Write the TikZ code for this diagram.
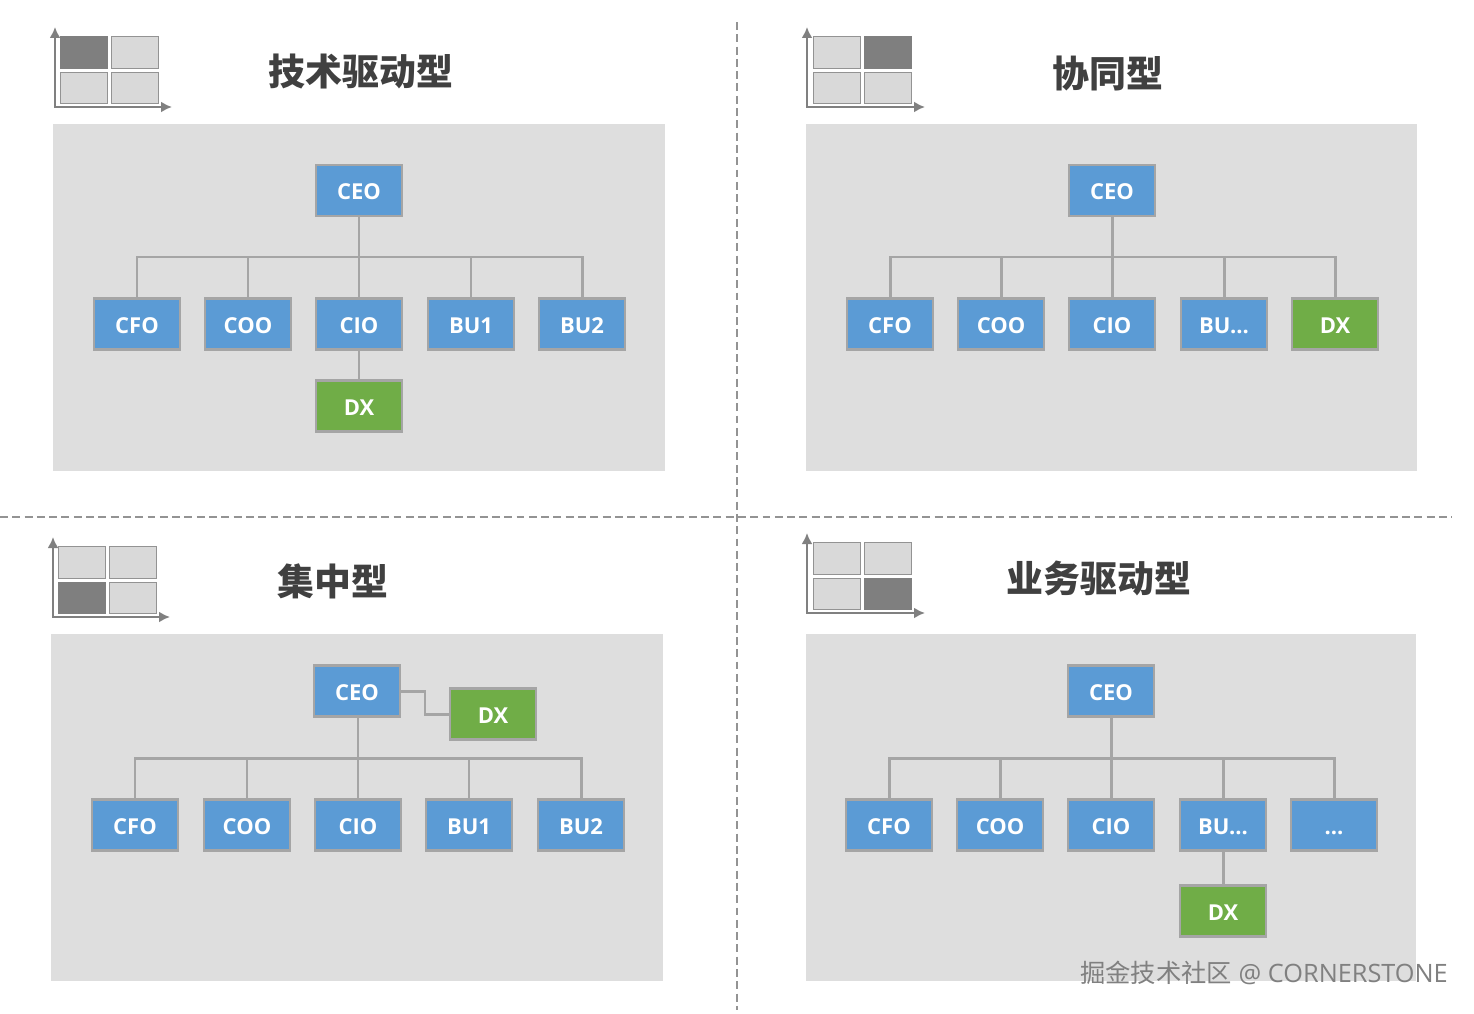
\documentclass[tikz,border=0pt]{standalone}
\usepackage{fontspec}
\setmainfont{Open Sans}
\newfontfamily\cjk{Noto Sans CJK SC}
\usepackage{xcolor}
\usetikzlibrary{arrows.meta}
\definecolor{panelgray}{HTML}{DEDEDE}
\definecolor{linegray}{HTML}{A5A5A5}
\definecolor{boxblue}{HTML}{5B9BD5}
\definecolor{boxgreen}{HTML}{70AD47}
\definecolor{celllight}{HTML}{D9D9D9}
\definecolor{celldark}{HTML}{7F7F7F}
\definecolor{titlegray}{HTML}{404040}
\tikzset{
    rolebox/.style={draw=linegray,line width=1.2pt,fill=boxblue,text=white,font=\bfseries\fontsize{12.5}{14}\selectfont,minimum width=1.72cm,minimum height=1.02cm,text height=10.5pt,text depth=0pt,inner sep=0pt},
    dxbox/.style={rolebox,fill=boxgreen},
    link/.style={draw=linegray,line width=1.7pt},
    panel/.style={fill=panelgray,draw=none},
    sep/.style={draw=gray!85,line width=0.8pt,dash pattern=on 4.5pt off 2.5pt},
    cell/.style={draw=gray!85,line width=0.5pt,fill=celllight},
    darkcell/.style={draw=celldark,line width=0.5pt,fill=celldark},
    axes/.style={draw=gray,line width=1.6pt,{Latex[length=2.2mm,width=2.2mm]}-{Latex[length=2.2mm,width=2.2mm]}},
    heading/.style={text=titlegray,font=\cjk\bfseries\fontsize{21}{24}\selectfont,inner sep=0pt}
}
\begin{document}
\begin{tikzpicture}[x=0.02cm,y=-0.02cm]
        \useasboundingbox (0,0) rectangle (1474,1014);
        \fill[white] (0,0) rectangle (1474,1014);
        % separators
        \draw[sep] (737,22) -- (737,1010);
        \draw[sep] (0,517) -- (1452,517);
        % panels
        \draw[panel] (53,124) rectangle (665,471);
        \draw[panel] (806,124) rectangle (1417,471);
        \draw[panel] (51,634) rectangle (663,981);
        \draw[panel] (806,634) rectangle (1416,981);
        % top left
        \draw[axes] (55,27) -- (55,107) -- (172,107);
        \draw[darkcell] (60,36) rectangle (107,68);
        \draw[cell] (111,36) rectangle (158,68);
        \draw[cell] (60,72) rectangle (107,103);
        \draw[cell] (111,72) rectangle (158,103);
        \node[heading] (title1) at (361,71) {技术驱动型};
        \node[rolebox] (ceo1) at (359,190.5) {CEO};
        \node[rolebox] (cfo1) at (137,324) {CFO};
        \node[rolebox] (coo1) at (248,324) {COO};
        \node[rolebox] (cio1) at (359,324) {CIO};
        \node[rolebox] (bu1) at (471,324) {BU1};
        \node[rolebox] (bv1) at (582,324) {BU2};
        \node[dxbox] (dx1) at (359,406) {DX};
        \coordinate (bus1) at (359,257);
        \draw[link] (ceo1) -- (cio1);
        \draw[link] (cio1) -- (dx1);
        \draw[link] (bus1) -| (cfo1.north);
        \draw[link] (bus1) -| (coo1.north);
        \draw[link] (bus1) -| (bu1.north);
        \draw[link] (bus1) -| (bv1.north);
        % top right
        \draw[axes] (807,27) -- (807,107) -- (925,107);
        \draw[cell] (813,36) rectangle (860,68);
        \draw[darkcell] (864,36) rectangle (911,68);
        \draw[cell] (813,72) rectangle (860,103);
        \draw[cell] (864,72) rectangle (911,103);
        \node[heading] (title2) at (1108,73) {协同型};
        \node[rolebox] (ceo2) at (1112,190.5) {CEO};
        \node[rolebox] (cfo2) at (890,324) {CFO};
        \node[rolebox] (coo2) at (1001,324) {COO};
        \node[rolebox] (cio2) at (1112,324) {CIO};
        \node[rolebox] (bu2) at (1224,324) {BU...};
        \node[dxbox] (dx2) at (1335,324) {DX};
        \coordinate (bus2) at (1112,257);
        \draw[link] (ceo2) -- (cio2);
        \draw[link] (bus2) -| (cfo2.north);
        \draw[link] (bus2) -| (coo2.north);
        \draw[link] (bus2) -| (bu2.north);
        \draw[link] (bus2) -| (dx2.north);
        % bottom left
        \draw[axes] (53,537) -- (53,617) -- (170,617);
        \draw[cell] (58,546) rectangle (105,578);
        \draw[cell] (109,546) rectangle (156,578);
        \draw[darkcell] (58,582) rectangle (105,613);
        \draw[cell] (109,582) rectangle (156,613);
        \node[heading] (title3) at (333,581) {集中型};
        \node[rolebox] (ceo3) at (357,691) {CEO};
        \node[rolebox] (cfo3) at (135,825) {CFO};
        \node[rolebox] (coo3) at (247,825) {COO};
        \node[rolebox] (cio3) at (358,825) {CIO};
        \node[rolebox] (bu3) at (469,825) {BU1};
        \node[rolebox] (bv3) at (581,825) {BU2};
        \node[dxbox] (dx3) at (493,714) {DX};
        \coordinate (bus3) at (358,758);
        \draw[link] (ceo3.south -| cio3) -- (cio3);
        \draw[link] (ceo3.east) -| (425,714) -- (dx3.west);
        \draw[link] (bus3) -| (cfo3.north);
        \draw[link] (bus3) -| (coo3.north);
        \draw[link] (bus3) -| (bu3.north);
        \draw[link] (bus3) -| (bv3.north);
        % bottom right
        \draw[axes] (807,533) -- (807,613) -- (925,613);
        \draw[cell] (813,542) rectangle (860,574);
        \draw[cell] (864,542) rectangle (911,574);
        \draw[cell] (813,578) rectangle (860,609);
        \draw[darkcell] (864,578) rectangle (911,609);
        \node[heading] (title4) at (1099,578) {业务驱动型};
        \node[rolebox] (ceo4) at (1111,691) {CEO};
        \node[rolebox] (cfo4) at (889,825) {CFO};
        \node[rolebox] (coo4) at (1000,825) {COO};
        \node[rolebox] (cio4) at (1111,825) {CIO};
        \node[rolebox] (bu4) at (1223,825) {BU...};
        \node[rolebox] (etc4) at (1334,825) {...};
        \node[dxbox] (dx4) at (1223,911) {DX};
        \coordinate (bus4) at (1111,758);
        \draw[link] (ceo4) -- (cio4);
        \draw[link] (bu4) -- (dx4);
        \draw[link] (bus4) -| (cfo4.north);
        \draw[link] (bus4) -| (coo4.north);
        \draw[link] (bus4) -| (bu4.north);
        \draw[link] (bus4) -| (etc4.north);
        % watermark
        \node[text=gray,inner sep=0pt,font=\fontsize{14.4}{16}\selectfont] (mark) at (1264,973) {{\cjk 掘金技术社区} @ CORNERSTONE};
    \end{tikzpicture}
\end{document}
